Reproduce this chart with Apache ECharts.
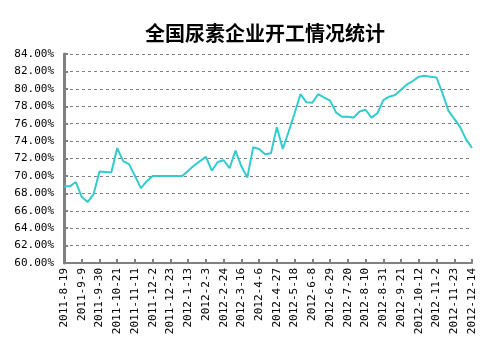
<!DOCTYPE html>
<html>
<head>
<meta charset="utf-8">
<script src="https://cdn.jsdelivr.net/npm/echarts@6/dist/echarts.min.js"></script>
<style>html,body{margin:0;padding:0;background:#fff;}#c{width:503px;height:351px;}</style>
</head>
<body>
<div id="c"></div>
<script>
var titleText = '全国尿素企业开工情况统计';
var categories = [
'2011-8-19','2011-8-26','2011-9-2','2011-9-9','2011-9-16','2011-9-23','2011-9-30','2011-10-7','2011-10-14','2011-10-21',
'2011-10-28','2011-11-4','2011-11-11','2011-11-18','2011-11-25','2011-12-2','2011-12-9','2011-12-16','2011-12-23','2011-12-30',
'2012-1-6','2012-1-13','2012-1-20','2012-1-27','2012-2-3','2012-2-10','2012-2-17','2012-2-24','2012-3-2','2012-3-9',
'2012-3-16','2012-3-23','2012-3-30','2012-4-6','2012-4-13','2012-4-20','2012-4-27','2012-5-4','2012-5-11','2012-5-18',
'2012-5-25','2012-6-1','2012-6-8','2012-6-15','2012-6-22','2012-6-29','2012-7-6','2012-7-13','2012-7-20','2012-7-27',
'2012-8-3','2012-8-10','2012-8-17','2012-8-24','2012-8-31','2012-9-7','2012-9-14','2012-9-21','2012-9-28','2012-10-5',
'2012-10-12','2012-10-19','2012-10-26','2012-11-2','2012-11-9','2012-11-16','2012-11-23','2012-11-30','2012-12-7','2012-12-14'
];
var rates = [
68.8,68.8,69.3,67.6,67.0,67.9,70.5,70.45,70.4,73.2,
71.7,71.35,70.0,68.6,69.4,70.0,70.0,70.0,70.0,70.0,
70.0,70.6,71.2,71.7,72.2,70.6,71.6,71.8,70.9,72.9,
71.1,69.8,73.3,73.1,72.5,72.6,75.6,73.1,75.1,77.2,
79.4,78.45,78.4,79.4,79.0,78.65,77.3,76.8,76.8,76.7,
77.4,77.6,76.7,77.2,78.7,79.1,79.3,79.9,80.5,80.9,
81.4,81.5,81.4,81.3,79.5,77.5,76.55,75.6,74.2,73.2
];
var yMin = 60, yMax = 84, yStep = 2;

var chart = echarts.init(document.getElementById('c'), null, {renderer:'canvas'});
var mono = '"DejaVu Sans Mono", monospace';
chart.setOption({
  animation: false,
  backgroundColor: '#fff',
  title: {
    text: titleText, left: 140, top: 18,
    textStyle: {fontFamily: '"Noto Sans CJK SC"', fontSize: 20, fontWeight: 'bold', color: '#000'}
  },
  grid: {left: 64, right: 31, top: 54, bottom: 88},
  xAxis: {
    type: 'category', data: categories, boundaryGap: false,
    axisLine: {lineStyle: {color: '#808080', width: 2}},
    axisTick: {show: true, inside: true, length: 4, interval: 2, lineStyle: {color: '#808080', width: 2}},
    axisLabel: {interval: 2, rotate: 90, color: '#000', fontFamily: mono, fontSize: 11, margin: 5},
    splitLine: {show: false}
  },
  yAxis: {
    type: 'value', min: yMin, max: yMax, interval: yStep,
    axisLine: {show: true, lineStyle: {color: '#808080', width: 3}},
    axisTick: {show: true, inside: true, length: 4, lineStyle: {color: '#808080', width: 2}},
    axisLabel: {color: '#000', fontFamily: mono, fontSize: 11, margin: 10,
      formatter: function(v){ return v.toFixed(2) + '%'; }},
    splitLine: {show: true, lineStyle: {color: '#808080', type: [3, 3], width: 1}}
  },
  series: [{
    type: 'line', data: rates, showSymbol: false, symbol: 'none',
    lineStyle: {color: '#33CCCC', width: 2}
  }]
});
</script>
</body>
</html>
